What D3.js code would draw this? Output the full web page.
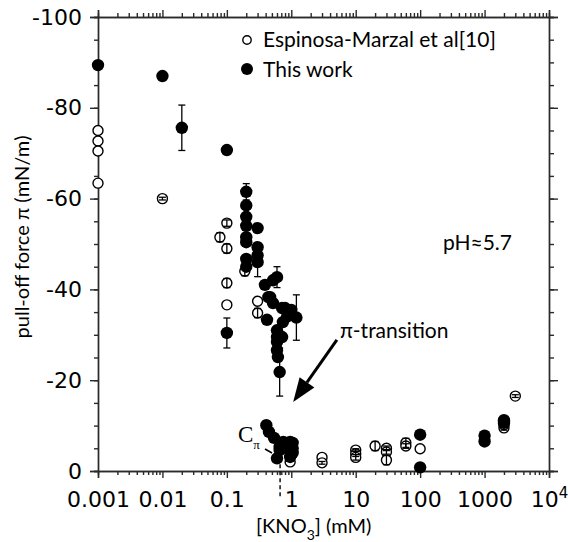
<!DOCTYPE html>
<html>
<head>
<meta charset="utf-8">
<script src="https://cdn.jsdelivr.net/npm/d3@7"></script>
<style>
  body { margin: 0; background: #fff; }
  .axis path, .axis line { stroke: #2a2a2a; stroke-width: 1.4; }
  .axis text { font-family: "DejaVu Sans", Verdana, sans-serif; font-size: 22px; fill: #000; }
  .lbl { font-family: Lato, "Open Sans", sans-serif; fill: #000; }
</style>
</head>
<body>
<div id="chart"></div>
<script>
// Espinosa-Marzal et al [10] (open circles)
const espConc  = [0.001, 0.001, 0.001, 0.001, 0.01, 0.1, 0.078, 0.1, 0.1, 0.1, 0.19, 0.3, 0.3,
                  0.96, 3, 3, 10, 10, 10, 20, 30, 30, 30, 60, 60, 100, 1000, 2000, 2000, 3000];
const espForce = [-75, -72.7, -70.5, -63.4, -60, -54.6, -51.5, -49, -41.4, -36.6, -44, -37.4, -34.8,
                  -2, -3, -1.8, -4.6, -3.8, -3.0, -5.5, -5, -4.2, -2.4, -6.2, -5.5, -4.9, -7, -9.5, -10.2, -16.5];
const espErr   = [0, 0, 0, 0, 0.3, 0.7, 1, 1, 1, 0, 1, 0, 1,
                  0, 0, 0.3, 0.3, 0.6, 0.6, 1, 0.5, 0.5, 1, 1, 0.5, 0, 0.5, 0.5, 0.3, 0.3];

// This work (filled circles)
const workConc  = [0.001, 0.01, 0.02, 0.1, 0.2, 0.2, 0.2, 0.2, 0.2, 0.2, 0.2, 0.2,
                   0.3, 0.3, 0.3, 0.3, 0.1, 0.39, 0.52, 0.6, 0.47, 0.52, 0.44, 0.72, 0.8, 1.0,
                   0.86, 0.42, 0.74, 1.2, 0.6, 0.6, 0.72, 0.6, 0.6, 0.62, 0.66,
                   0.41, 0.45, 0.54, 0.75, 0.96, 1.05, 1.05, 1.05, 0.96, 0.66, 0.66, 0.6, 0.86,
                   100, 100, 1000, 1000, 2000, 2000];
const workForce = [-89.4, -87, -75.6, -70.7, -61.5, -58.5, -56, -54, -51.5, -50.4, -46.7, -45,
                   -53.5, -49.3, -47.5, -46, -30.4, -41, -42, -42.7, -38.3, -37, -38.3, -35.9, -35.9, -35.5,
                   -34, -33.3, -32.8, -33.8, -31, -29.5, -29.5, -28.4, -26.6, -25.1, -21.8,
                   -10.1, -8.6, -7.3, -6.4, -6.4, -6.2, -5, -4, -3.1, -5.3, -4.6, -2.8, -5,
                   -8, -0.8, -7.8, -6.5, -11.2, -10.6];
const workErr   = [0, 0, 5, 0, 1.8, 0, 0, 0, 0, 0, 0, 0,
                   0, 0, 0, 3.2, 3.3, 0, 0, 2.3, 0, 0, 0, 0, 0, 0,
                   0, 0, 0, 5, 0, 0, 0, 0, 0, 0, 5.3,
                   0, 0, 0, 0, 0, 0, 0, 0, 0, 0, 0, 0, 0,
                   0, 0, 0, 0, 0, 0];

const xTicks = [0.001, 0.01, 0.1, 1, 10, 100, 1000, 10000];
const yTicks = [0, -20, -40, -60, -80, -100];
const legendNames = ["Espinosa-Marzal et al[10]", "This work"];
const cPi = 0.67;

const esp = espConc.map((c, i) => ({ c, f: espForce[i], e: espErr[i] }));
const work = workConc.map((c, i) => ({ c, f: workForce[i], e: workErr[i] }));

const W = 568, H = 542;
const svg = d3.select("#chart").append("svg").attr("width", W).attr("height", H);

const x = d3.scaleLog().domain([0.001, 10000]).range([98, 549]);
const y = d3.scaleLinear().domain([0, -100]).range([471, 17]);

// minor tick values
const xMinor = [];
for (let k = -3; k < 4; k++) for (let m = 2; m < 10; m++) xMinor.push(m * Math.pow(10, k));
const yMinor = d3.range(0, -101, -5);

// bottom axis
svg.append("g").attr("class", "axis").attr("transform", `translate(0,${y(0)})`)
  .call(d3.axisBottom(x).tickValues(xMinor).tickSize(4).tickFormat(""));
const bx = svg.append("g").attr("class", "axis").attr("transform", `translate(0,${y(0)})`)
  .call(d3.axisBottom(x).tickValues(xTicks).tickSize(7).tickPadding(13)
    .tickFormat(d => d === 10000 ? "10" : String(d)));
bx.selectAll(".tick text").filter(d => d === 10000)
  .append("tspan").attr("dy", "-0.55em").attr("font-size", "15px").text("4");

// top axis
svg.append("g").attr("class", "axis").attr("transform", `translate(0,${y(-100)})`)
  .call(d3.axisTop(x).tickValues(xMinor).tickSize(4).tickFormat(""));
svg.append("g").attr("class", "axis").attr("transform", `translate(0,${y(-100)})`)
  .call(d3.axisTop(x).tickValues(xTicks).tickSize(7).tickFormat(""));

// left axis
svg.append("g").attr("class", "axis").attr("transform", `translate(${x(0.001)},0)`)
  .call(d3.axisLeft(y).tickValues(yMinor).tickSize(4).tickFormat(""));
svg.append("g").attr("class", "axis").attr("transform", `translate(${x(0.001)},0)`)
  .call(d3.axisLeft(y).tickValues(yTicks).tickSize(8).tickPadding(8).tickFormat(d => String(d)));

// right axis
svg.append("g").attr("class", "axis").attr("transform", `translate(${x(10000)},0)`)
  .call(d3.axisRight(y).tickValues(yMinor).tickSize(5).tickFormat(""));
svg.append("g").attr("class", "axis").attr("transform", `translate(${x(10000)},0)`)
  .call(d3.axisRight(y).tickValues(yTicks).tickSize(9).tickFormat(""));

svg.selectAll(".axis .domain").attr("fill", "none");

// error bar helper
function errorBars(data, cls) {
  const g = svg.append("g").attr("class", cls)
    .attr("stroke", "#000").attr("stroke-width", 1.3).attr("fill", "none");
  data.filter(d => d.e > 0).forEach(d => {
    const cx = x(d.c);
    g.append("line").attr("x1", cx).attr("x2", cx).attr("y1", y(d.f - d.e)).attr("y2", y(d.f + d.e));
    [d.f - d.e, d.f + d.e].forEach(v => {
      g.append("line").attr("x1", cx - 3.5).attr("x2", cx + 3.5).attr("y1", y(v)).attr("y2", y(v));
    });
  });
}

// open circles
svg.append("g").selectAll("circle").data(esp).join("circle")
  .attr("cx", d => x(d.c)).attr("cy", d => y(d.f)).attr("r", 5)
  .attr("fill", "#fff").attr("stroke", "#000").attr("stroke-width", 1.4);
errorBars(esp, "err-open");

// filled circles
errorBars(work, "err-filled");
svg.append("g").selectAll("circle").data(work).join("circle")
  .attr("cx", d => x(d.c)).attr("cy", d => y(d.f)).attr("r", 6.2)
  .attr("fill", "#000");

// C_pi dashed marker
svg.append("line")
  .attr("x1", x(cPi)).attr("x2", x(cPi)).attr("y1", y(-1.5)).attr("y2", y(0) + 26)
  .attr("stroke", "#000").attr("stroke-width", 1.4).attr("stroke-dasharray", "4,3");
const cp = svg.append("text").attr("x", 238).attr("y", 442)
  .attr("font-family", "'Liberation Serif', 'Times New Roman', serif").attr("font-size", "23px").text("C");
cp.append("tspan").attr("dy", "7").attr("font-size", "13px").text("π");
svg.append("line").attr("x1", 265).attr("y1", 449).attr("x2", 272).attr("y2", 453)
  .attr("stroke", "#000").attr("stroke-width", 1.5);

// pi-transition arrow
const tail = [x(5.1), y(-28.9)], tip = [x(1.07), y(-15.2)];
const ang = Math.atan2(tip[1] - tail[1], tip[0] - tail[0]);
const hl = 24, hw = 9;
const base = [tip[0] - hl * Math.cos(ang), tip[1] - hl * Math.sin(ang)];
svg.append("line").attr("x1", tail[0]).attr("y1", tail[1]).attr("x2", base[0]).attr("y2", base[1])
  .attr("stroke", "#000").attr("stroke-width", 3);
svg.append("path")
  .attr("d", `M${tip[0]},${tip[1]}L${base[0] + hw * Math.sin(ang)},${base[1] - hw * Math.cos(ang)}L${base[0] - hw * Math.sin(ang)},${base[1] + hw * Math.cos(ang)}Z`)
  .attr("fill", "#000");
svg.append("text").attr("class", "lbl").attr("x", 340).attr("y", 338).attr("font-size", "21px").text("π-transition");
svg.append("text").attr("class", "lbl").attr("x", 443).attr("y", 250).attr("font-size", "21px").text("pH≈5.7");

// legend
svg.append("circle").attr("cx", 247).attr("cy", 40).attr("r", 4.2)
  .attr("fill", "#fff").attr("stroke", "#000").attr("stroke-width", 1.4);
svg.append("circle").attr("cx", 247).attr("cy", 69).attr("r", 6).attr("fill", "#000");
svg.append("text").attr("class", "lbl").attr("x", 263).attr("y", 47).attr("font-size", "21px").text(legendNames[0]);
svg.append("text").attr("class", "lbl").attr("x", 263).attr("y", 77).attr("font-size", "21px").text(legendNames[1]);

// axis titles
svg.append("text").attr("class", "lbl").attr("font-size", "20px").attr("text-anchor", "middle")
  .attr("transform", "translate(29,237) rotate(-90)").text("pull-off force π (mN/m)");
const xt = svg.append("text").attr("class", "lbl").attr("font-size", "20px")
  .attr("x", 256).attr("y", 533);
xt.append("tspan").text("[KNO");
xt.append("tspan").attr("dy", 7).attr("font-size", "14px").text("3");
xt.append("tspan").attr("dy", -7).text("] (mM)");
</script>
</body>
</html>
